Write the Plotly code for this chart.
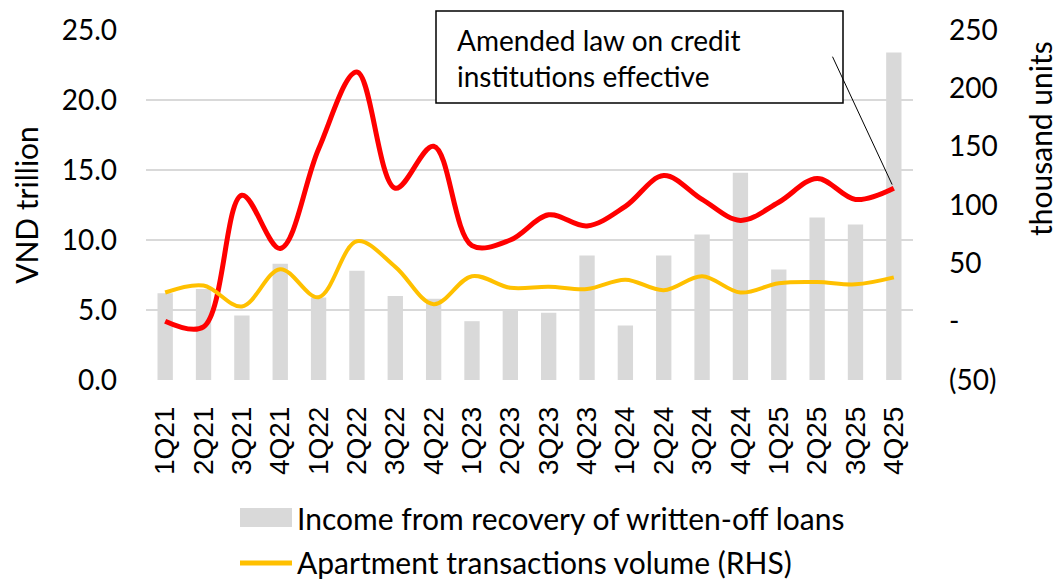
import plotly.graph_objects as go

quarters = ["1Q21", "2Q21", "3Q21", "4Q21", "1Q22", "2Q22", "3Q22", "4Q22",
            "1Q23", "2Q23", "3Q23", "4Q23", "1Q24", "2Q24", "3Q24", "4Q24",
            "1Q25", "2Q25", "3Q25", "4Q25"]

# Income from recovery of written-off loans (VND trillion, left axis)
recovery_income = [6.2, 6.5, 4.6, 8.3, 5.9, 7.8, 6.0, 5.8, 4.2, 5.0,
                   4.8, 8.9, 3.9, 8.9, 10.4, 14.8, 7.9, 11.6, 11.1, 23.4]

# Apartment transactions volume (thousand units, right axis)
apartment_volume = [25, 31, 13, 45, 21, 69, 47, 15, 39, 29,
                    30, 28, 36, 27, 39, 25, 33, 34, 32, 38]

# Unlabelled red series (left-axis scale)
red_series = [4.2, 3.8, 13.2, 9.4, 16.5, 22.0, 13.7, 16.7, 9.6, 10.0,
              11.8, 11.0, 12.4, 14.6, 12.9, 11.4, 12.7, 14.4, 12.9, 13.7]

left_ticks = [0, 5, 10, 15, 20, 25]
right_ticks = [-50, 0, 50, 100, 150, 200, 250]
right_ticktext = ["(50)", "-", "50", "100", "150", "200", "250"]

BAR_NAME = "Income from recovery of written-off loans"
LINE_NAME = "Apartment transactions volume (RHS)"
BAR_COLOR = "#d9d9d9"
YELLOW = "#ffc000"
RED = "#ff0000"

FONT = "Lato"
TICK_FONT = "Liberation Sans"
W, H = 1059, 579
L, R, T, B = 146, 146, 30, 199
PW, PH = W - L - R, H - T - B


def px_x(x):
    return (x - L) / PW


def px_y(y):
    return (H - B - y) / PH


fig = go.Figure()

fig.add_trace(go.Bar(
    x=quarters, y=recovery_income, name=BAR_NAME,
    marker=dict(color=BAR_COLOR, line=dict(width=0)), yaxis="y",
    showlegend=False,
))
fig.add_trace(go.Scatter(
    x=quarters, y=apartment_volume, name=LINE_NAME,
    mode="lines", line=dict(color=YELLOW, width=4, shape="spline", smoothing=1.0),
    yaxis="y2", showlegend=False,
))
fig.add_trace(go.Scatter(
    x=quarters, y=red_series, name="", showlegend=False,
    mode="lines", line=dict(color=RED, width=5, shape="spline", smoothing=1.0),
    yaxis="y",
))

# Callout box with leader line to the last red point
box_l, box_r, box_t, box_b = 436, 843, 11, 103
fig.add_shape(type="rect", xref="paper", yref="paper",
              x0=px_x(box_l), x1=px_x(box_r), y0=px_y(box_b), y1=px_y(box_t),
              line=dict(color="black", width=1.5), fillcolor="white", layer="above")
fig.add_annotation(xref="paper", yref="paper", x=px_x(455), y=px_y(21),
                   xanchor="left", yanchor="top", align="left", showarrow=False,
                   text="Amended law on credit<br>institutions effective",
                   font=dict(family=FONT, size=28, color="black"))
fig.add_annotation(x="4Q25", y=red_series[-1], xref="x", yref="y",
                   text="", showarrow=True, arrowhead=0, arrowwidth=1,
                   arrowcolor="black", axref="pixel", ayref="pixel",
                   ax=-62, ay=-133, standoff=4)

# Right axis title
fig.add_annotation(xref="paper", yref="paper", x=px_x(1040), y=px_y(139),
                   xanchor="center", yanchor="middle", textangle=-90,
                   showarrow=False, text="thousand units",
                   font=dict(family=FONT, size=30, color="black"))

# Legend drawn below the chart: swatch + label for each named series
fig.add_shape(type="rect", xref="paper", yref="paper",
              x0=px_x(240), x1=px_x(292), y0=px_y(527), y1=px_y(508),
              line=dict(width=0), fillcolor=BAR_COLOR)
fig.add_shape(type="line", xref="paper", yref="paper",
              x0=px_x(240), x1=px_x(292), y0=px_y(563), y1=px_y(563),
              line=dict(color=YELLOW, width=5))
fig.add_annotation(xref="paper", yref="paper", x=px_x(295), y=px_y(518),
                   xanchor="left", yanchor="middle", showarrow=False,
                   text=BAR_NAME, font=dict(family=FONT, size=30, color="black"))
fig.add_annotation(xref="paper", yref="paper", x=px_x(295), y=px_y(562),
                   xanchor="left", yanchor="middle", showarrow=False,
                   text=LINE_NAME, font=dict(family=FONT, size=30, color="black"))

fig.update_layout(
    width=W, height=H,
    margin=dict(l=L, r=R, t=T, b=B, pad=0, autoexpand=False),
    paper_bgcolor="white", plot_bgcolor="white",
    font=dict(family=FONT, size=28, color="black"),
    bargap=0.6,
    showlegend=False,
    xaxis=dict(type="category", tickangle=-90, showgrid=False, showline=False,
               tickfont=dict(family=TICK_FONT, size=28), ticks="",
               ticklabelstandoff=20, automargin=False),
    yaxis=dict(range=[0, 25], tickvals=left_ticks, tickformat=".1f",
               showgrid=True, gridcolor="#d9d9d9", gridwidth=1.5,
               zeroline=False, showline=False, ticks="",
               ticklabelstandoff=28, automargin=False,
               tickfont=dict(family=FONT, size=28),
               title=dict(text="VND trillion", standoff=14,
                          font=dict(family=FONT, size=30))),
    yaxis2=dict(range=[-50, 250], tickvals=right_ticks, ticktext=right_ticktext,
                overlaying="y", side="right", showgrid=False, zeroline=False,
                showline=False, ticks="", ticklabelstandoff=35, automargin=False,
                tickfont=dict(family=FONT, size=28)),
)

fig.write_html("out.html")
